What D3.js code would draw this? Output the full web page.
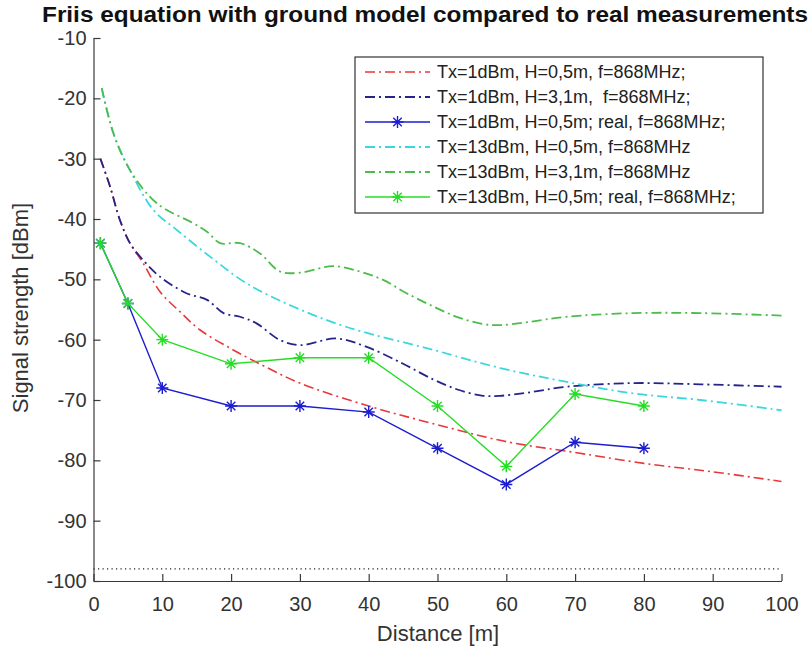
<!DOCTYPE html>
<html>
<head>
<meta charset="utf-8">
<script src="https://cdn.jsdelivr.net/npm/d3@7"></script>
<style>
  body { margin: 0; background: #fff; }
  text { font-family: "Liberation Sans", Arial, sans-serif; }
</style>
</head>
<body>
<div class="chart"></div>
<script>
// ** data */
const xTicks = [0, 10, 20, 30, 40, 50, 60, 70, 80, 90, 100];
const yTicks = [-100, -90, -80, -70, -60, -50, -40, -30, -20, -10];

// model curves (Friis + ground)
const distRed = [1, 2.4, 3.85, 5.3, 7.2, 9.7, 12.6, 15.5, 20, 25, 30, 40, 50, 60, 70, 80, 90, 100];
const tx1h05 = [-30, -34.6, -40.2, -44.0, -47.3, -52.1, -55.4, -58.4, -61.5, -64.5, -67.2, -71.0, -74.1, -76.9, -78.7, -80.5, -81.9, -83.5];

const distNavy = [1, 2.4, 3.85, 5.3, 7.2, 9.7, 13.5, 16.5, 18.9, 21.3, 23.7, 27, 30, 35.3, 39.7, 45, 49.4, 53, 56.6, 59.1, 63, 68.8, 78.4, 88.2, 100];
const tx1h31 = [-30, -34.6, -40.2, -44.0, -46.8, -49.6, -52.3, -53.4, -55.6, -56.2, -57.3, -60.0, -60.9, -59.8, -61.2, -64.0, -66.6, -68.3, -69.3, -69.3, -68.8, -67.8, -67.2, -67.4, -67.8];

const distCyan = [1.2, 2.9, 5.3, 8.7, 12.1, 16.9, 22.3, 29, 36.8, 49.4, 59.1, 68.8, 78.4, 88.2, 100];
const tx13h05 = [-18.3, -25.8, -31.9, -38.5, -41.8, -46.2, -50.7, -54.5, -57.9, -61.7, -64.7, -67.0, -68.9, -70.0, -71.7];

const distGreen = [1.2, 2.9, 5.3, 9.2, 14.5, 16.5, 18.4, 21.3, 24.2, 27.1, 30, 34.8, 38.7, 42.1, 45.5, 49.4, 53, 56.6, 59.1, 63, 68.8, 78.4, 88.2, 100];
const tx13h31 = [-18.3, -25.8, -31.9, -37.4, -40.7, -42.1, -44.0, -44.0, -45.7, -48.7, -48.9, -47.8, -48.7, -50.1, -52.3, -54.5, -56.3, -57.4, -57.6, -57.1, -56.2, -55.6, -55.6, -56.0];

// real measurements
const distReal = [1, 5, 10, 20, 30, 40, 50, 60, 70, 80];
const real1 = [-44, -54, -68, -71, -71, -72, -78, -84, -77, -78];
const real13 = [-44, -54, -60, -64, -63, -63, -71, -81, -69, -71];

const sensitivity = -98;

const legendLabels = [
  "Tx=1dBm, H=0,5m, f=868MHz;",
  "Tx=1dBm, H=3,1m,  f=868MHz;",
  "Tx=1dBm, H=0,5m; real, f=868MHz;",
  "Tx=13dBm, H=0,5m, f=868MHz",
  "Tx=13dBm, H=3,1m, f=868MHz",
  "Tx=13dBm, H=0,5m; real, f=868MHz;"
];

//** d3 */
var svg = d3.select(".chart")
            .append("svg")
            .attr("width", 812)
            .attr("height", 649);

var x = d3.scaleLinear().domain([0, 100]).range([93.5, 781.5]);
var y = d3.scaleLinear().domain([-100, -10]).range([581, 38]);

const axisColor = "#3a3a3a";
const dashDot = "10,4,2,4";

const series = [
  {xs: distRed, ys: tx1h05, color: "#e8383a", dash: dashDot, width: 1.6, marker: false},
  {xs: distNavy, ys: tx1h31, color: "#24248c", dash: dashDot, width: 1.8, marker: false},
  {xs: distReal, ys: real1, color: "#1c1cd0", dash: null, width: 1.4, marker: true},
  {xs: distCyan, ys: tx13h05, color: "#3ad8dc", dash: dashDot, width: 1.8, marker: false},
  {xs: distGreen, ys: tx13h31, color: "#4cbc4c", dash: dashDot, width: 1.8, marker: false},
  {xs: distReal, ys: real13, color: "#24de24", dash: null, width: 1.4, marker: true}
];

// dotted sensitivity line
svg.append("line")
  .attr("x1", x(0)).attr("x2", x(100))
  .attr("y1", y(sensitivity)).attr("y2", y(sensitivity))
  .attr("stroke", "#222").attr("stroke-width", 1.2)
  .attr("stroke-dasharray", "1.2,3.3");

function star(g, cx, cy, r, color) {
  const d = r * Math.SQRT1_2;
  const p = `M${cx - r},${cy}L${cx + r},${cy}M${cx},${cy - r}L${cx},${cy + r}` +
            `M${cx - d},${cy - d}L${cx + d},${cy + d}M${cx - d},${cy + d}L${cx + d},${cy - d}`;
  g.append("path").attr("d", p).attr("stroke", color).attr("stroke-width", 1.4).attr("fill", "none");
}

series.forEach(s => {
  const pts = s.xs.map((v, i) => [v, s.ys[i]]);
  const line = d3.line()
    .x(d => x(d[0])).y(d => y(d[1]))
    .curve(s.marker ? d3.curveLinear : d3.curveCatmullRom.alpha(0.5));
  svg.append("path").datum(pts)
    .attr("d", line)
    .attr("fill", "none")
    .attr("stroke", s.color)
    .attr("stroke-width", s.width)
    .attr("stroke-dasharray", s.dash);
  if (s.marker) {
    pts.forEach(d => star(svg, x(d[0]), y(d[1]), 6, s.color));
  }
});

// axes (MATLAB style, ticks inside, box off)
var xAxis = d3.axisBottom(x).tickValues(xTicks).tickSizeInner(-7).tickSizeOuter(0)
  .tickPadding(16).tickFormat(d => String(d));
var yAxis = d3.axisLeft(y).tickValues(yTicks).tickSizeInner(-7).tickSizeOuter(0)
  .tickPadding(7).tickFormat(d => String(d));

var gx = svg.append("g").attr("transform", `translate(0,${y(-100)})`).call(xAxis);
var gy = svg.append("g").attr("transform", `translate(${x(0)},0)`).call(yAxis);
[gx, gy].forEach(g => {
  g.select(".domain").attr("stroke", axisColor).attr("stroke-width", 1.2);
  g.selectAll(".tick line").attr("stroke", axisColor).attr("stroke-width", 1.2);
  g.selectAll(".tick text").attr("fill", "#333").style("font-size", "20px")
    .style("font-family", "'Liberation Sans', Arial, sans-serif");
});
gx.selectAll(".tick text").attr("dy", "0.71em");

// labels
svg.append("text")
  .attr("x", 425).attr("y", 22)
  .attr("text-anchor", "middle")
  .attr("textLength", 766).attr("lengthAdjust", "spacingAndGlyphs")
  .style("font-size", "22px").style("font-weight", "bold")
  .attr("fill", "#111")
  .text("Friis equation with ground model compared to real measurements");

svg.append("text")
  .attr("x", 438).attr("y", 641)
  .attr("text-anchor", "middle")
  .style("font-size", "22px").attr("fill", "#333")
  .text("Distance [m]");

svg.append("text")
  .attr("transform", "translate(28,308) rotate(-90)")
  .attr("text-anchor", "middle")
  .style("font-size", "22px").attr("fill", "#333")
  .text("Signal strength [dBm]");

// legend
var lg = svg.append("g");
lg.append("rect")
  .attr("x", 355).attr("y", 57).attr("width", 408).attr("height", 156)
  .attr("fill", "#fff").attr("stroke", "#333").attr("stroke-width", 1.2);

series.forEach((s, i) => {
  const ly = 72 + i * 25;
  lg.append("line")
    .attr("x1", 365).attr("x2", 430).attr("y1", ly).attr("y2", ly)
    .attr("stroke", s.color).attr("stroke-width", s.width)
    .attr("stroke-dasharray", s.dash);
  if (s.marker) star(lg, 397.5, ly, 6, s.color);
  lg.append("text")
    .attr("x", 437).attr("y", ly).attr("dy", "0.35em")
    .style("font-size", "18px").style("white-space", "pre").attr("fill", "#222")
    .text(legendLabels[i]);
});
</script>
</body>
</html>
